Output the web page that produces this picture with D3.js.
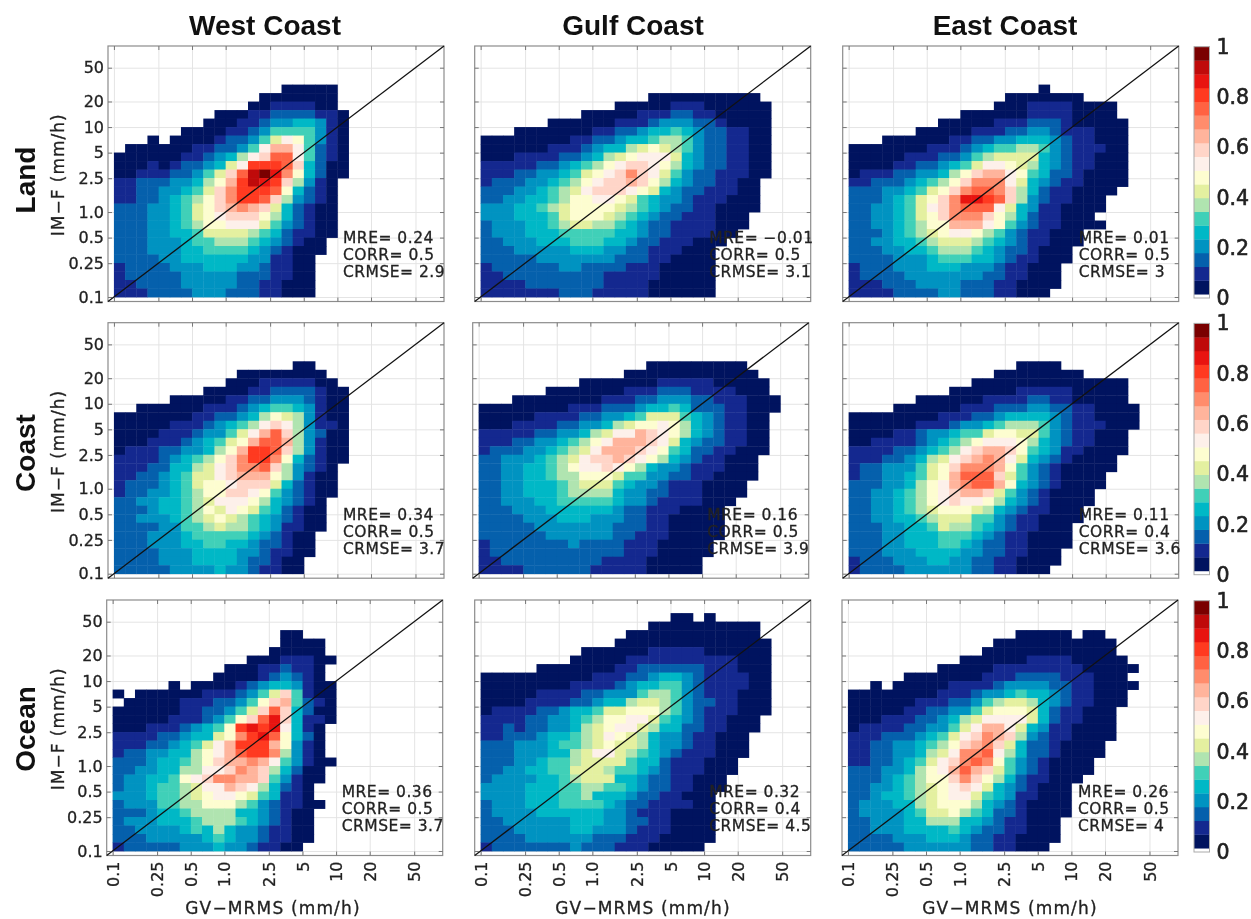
<!DOCTYPE html>
<html>
<head>
<meta charset="utf-8">
<script src="https://cdnjs.cloudflare.com/ajax/libs/d3/7.8.5/d3.min.js"></script>
<style>
    body { margin: 0; background: #fff; }
    svg { display: block; filter: blur(0.45px); }
    text { font-family: "DejaVu Sans", sans-serif; fill: #222; stroke: #222; stroke-width: 0.3px; }
    .head { font-family: "Liberation Sans", sans-serif; font-weight: bold; fill: #111; stroke: none; font-size: 28px; }
</style>
</head>
<body>
<svg id="chart" width="1251" height="919"></svg>
<script>
// Each panel: one string per row, top row first, last string is the 0.1 mm/h bin.
// One character per column: colour level 0-9,a-h as on the colour bar, "." is empty.
const westLand = [
    "...............00000",
    ".............0000000",
    "............00111100",
    ".........000112222110",
    "........0001123344310",
    "......000011235555310",
    "...0.0000122357985310",
    ".0000001122359bb95210",
    "0000001123469add95210",
    "000101223479eeeda4200",
    "0011122357adghfc84200",
    "1122233468begfea6310",
    "112233457aceeed84210",
    "112234568aceeda63210",
    "222334578abcba742100",
    "2223345789aaa8642100",
    "22233456889997532100",
    "22233445777765421100",
    "2223334556665432100",
    "2223334455554321000",
    "222233444444331100",
    "122223334443321100",
    "122222333332221100",
    "112222333332211000",
    "111222233322211000"
];
const gulfLand = [
    "...............0000000000",
    "............00000111000000",
    ".........00000111221100000",
    "......0000001112333221" + "0000",
    "...00000001122344543221100",
    "00000000112234456653221100",
    "00000011123446787653221100",
    "00011112234678999743221100",
    "1111122345689aa98643221100",
    "111223345789aca97532211100",
    "12223345689aaba8643221100",
    "2223345679aaa987432211100",
    "2233445688998754332111000",
    "3334456788887654322110000",
    "333444578887654322111000",
    "233344567766543221111000",
    "23334445555544322111100",
    "2233344455544322111000",
    "222333334443322111000",
    "222223333333222110000",
    "122222233222211100000",
    "112222222221111100000",
    "111122222221111000000",
    "111111122211111000000"
];
const eastLand = [
    ".................0",
    "..............0000000",
    ".............00011110000",
    "..........00000011110000",
    "........00000111222100000",
    "......0000011122332111000",
    "...0000001122334443211000",
    "0000000111234556653211100",
    "0000011122356777743211000",
    "0000112234579987643211000",
    "01112233468abb98542210000",
    "1122234568accc97432110000",
    "222334578acddca642110000",
    "22234578acffeda63211000",
    "22334579acddd9743110000",
    "22334578accca864211000",
    "223345688bbb98532110000",
    "222345678998653211000",
    "223344567776543211000",
    "22233445666543221000",
    "22223334555443211000",
    "1222333444333211000",
    "1222233333332211000",
    "1112223333222110000",
    "111122223322211000"
];
const westCoast = [
    "................00",
    "...........00000000",
    "..........0001111100",
    "........0000112222100",
    ".....0000011223332100",
    "..0000001112345543100",
    "000000011223468763100",
    "00000111234569a963110",
    "0000111233579bda63200",
    "000111234578bddb63100",
    "01112233468beeda63100",
    "1111234568aceec842100",
    "1112244679accda63210",
    "1122345779abbb863100",
    "12223457889aaa742100",
    "1223345688aa98532100",
    "2233445679998643210",
    "2223445687987542100",
    "2233345678765432100",
    "2222335567665431100",
    "222333455555432100",
    "222333445544322100",
    "222233344443321100",
    "22223334444322100",
    "22222333343321100"
];
const gulfCoast = [
    "...............000000000",
    ".............000000000000",
    ".........00000001111100000",
    "......00000001112221111000",
    "...00000000111223332211100" + "0",
    "000000001112223445422211000",
    "00000111122334577754321100",
    "00011112233467889864321100",
    "11111223346799ba9864321100",
    "111223345689bbba9743221100",
    "12223345679bbba98542211000",
    "2233345679aaba98643211000",
    "22334456899a9864332111000",
    "2233445668887553322110000",
    "223344456777543321110000",
    "223344456666433221110000",
    "22333445555543321111000",
    "2223334444443221110000",
    "2222333444333221100000",
    "2222233333332221100000",
    "2222223333332211100000",
    "122222223222211100000",
    "122222222222211100000",
    "11222222222111100000",
    "11112222221111100000"
];
const eastCoast = [
    "...............0000",
    ".............00000000",
    "...........00000000000000",
    ".........0000001111100000",
    "......000000111122110000" + "0",
    "....00000011122233221100" + "00",
    "00000000111223444432110000",
    "00000011123345666532111000",
    "0000112334557887753211000",
    "0011112345689998643211000",
    "11112234569abba8543110000",
    "1112234679abcb9743210000",
    "122333578acccb8532100000",
    "122334578bddda753210000",
    "222334689bcddb843210000",
    "223345689abba753210000",
    "223345689a998643210000",
    "223345678887643211000",
    "223344567775532110000",
    "22233445766543211000",
    "22233444555432110000",
    "22233444554322110000",
    "2223334444332211000",
    "1222333443322110000",
    "122223333332211000"
];
const westOcean = [
    "...............00",
    "...............0000",
    "..............00000",
    "............00011100",
    "..........000112110",
    ".........0000123210",
    ".....0.0000123443100",
    "0.0000001112357a5100",
    ".0000011122358ab5210",
    "0000001122357ada4200",
    "000001112358adfa4110",
    "00011123458efef9410",
    "11112234478cefd8420",
    "1112234579beeeb8310",
    "1223344689bdeec6310",
    "222344568abbcb953100",
    "2233446699acba64200",
    "23344589accbba53100",
    "2334556799ba964210",
    "333455678998754110",
    "2333556688865321100",
    "222344566664432100",
    "233344456665432100",
    "223333454643321100",
    "222333334543321100",
    "12222233343321100"
];
const gulfOcean = [
    ".................00.0",
    "...............0000000000",
    ".............000000000000",
    "............00000000000000",
    ".........00000011111000000",
    "........000001111111111000",
    ".....000000011222222111000",
    "00000000001112234432111100",
    "00000000111123445532111100",
    "00000111122333566532111000",
    "00001111223446776532211000",
    "01111223445778886532111000",
    "1111223345688997543211000",
    "1121223346789976442211000",
    "112223445679876433211000",
    "222333455678776433211000",
    "222333446799765432111000",
    "22233455677775442111000",
    "22334455777655432111000",
    "2333344567774432211000",
    "3333444556655432211000",
    "333344455644432211000",
    "233344455554322111100",
    "233334444443321110000",
    "223333334443322110000",
    "222333334433321110000",
    "222233333322211100000",
    "12222222322211100000"
];
const eastOcean = [
    "...............00000.00",
    ".............00000000000",
    "............000000000000",
    "..........000000111100000",
    "........000001111111100000",
    ".....0000000111222211100" + "0",
    "..0.0000011112333322110000",
    "0000000011123345443211000",
    "0000001112235677643211000",
    "000001122335788874211000",
    "000111223467999974211000",
    "011112233579bb9743110000",
    "11122234579acba632110000",
    "1122334568abca742210000",
    "1122334679ccd9642210000",
    "112234579acdc853210000",
    "222334689bdba753210000",
    "222345688aca864211000",
    "2233456789a974321000",
    "22344567899754311000",
    "23334467888643210000",
    "23333457786542210000",
    "2233344666443211000",
    "2233344445432211000",
    "2222333444322110000",
    "222223333332211000"
];

const panelData = [westLand, gulfLand, eastLand, westCoast, gulfCoast, eastCoast, westOcean, gulfOcean, eastOcean];
const mreText = ["0.24", "\u22120.01", "0.01", "0.34", "0.16", "0.11", "0.36", "0.32", "0.26"];
const corrText = ["0.5", "0.5", "0.5", "0.5", "0.5", "0.4", "0.5", "0.4", "0.5"];
const crmseText = ["2.9", "3.1", "3", "3.7", "3.9", "3.6", "3.7", "4.5", "4"];

const columnNames = ["West Coast", "Gulf Coast", "East Coast"];
const rowNames = ["Land", "Coast", "Ocean"];
const tickValues = [0.1, 0.25, 0.5, 1, 2.5, 5, 10, 20, 50];
const tickLabels = ["0.1", "0.25", "0.5", "1.0", "2.5", "5", "10", "20", "50"];
const barTicks = [0, 0.2, 0.4, 0.6, 0.8, 1];

const levelColors = ["#00135f", "#14288f", "#0560ac", "#0093c1", "#00b8c6", "#40d0b8", "#b0e4b0", "#e4f0a0", "#fdfdd0",
    "#fdf0ea", "#ffd5c8", "#ffb49c", "#ff8c6c", "#ff6242", "#ff3a20", "#e81410", "#bf0a0a", "#7a0000"];

// frame positions
const frameLeft = [108, 474.7, 842.7, 108, 472.7, 842.7, 106.7, 474.7, 842];
const frameTop = [46, 322.7, 600];
const frameW = 336, frameH = 255.5;
const logDomain = [0.0885, 90];
const titleCenter = [265, 633, 1005];
const rowLabelCenter = [180, 453, 729];
const xLabelCenter = [273, 643, 1010];

const svg = d3.select("#chart");

function drawPanel(index) {
    let rowIdx = Math.floor(index / 3);
    let colIdx = index % 3;
    let x = d3.scaleLog().domain(logDomain).range([0, frameW]);
    let y = d3.scaleLog().domain(logDomain).range([frameH, 0]);
    let g = svg.append("g").attr("transform", `translate(${frameLeft[index]},${frameTop[rowIdx]})`);

    // grid goes under the cells
    let gridX = d3.axisBottom(x).tickValues(tickValues).tickSize(-frameH).tickFormat("");
    let gridY = d3.axisLeft(y).tickValues(tickValues).tickSize(-frameW).tickFormat("");
    g.append("g").attr("transform", `translate(0,${frameH})`).call(gridX)
        .call(s => s.select(".domain").remove())
        .selectAll("line").attr("stroke", "#e4e4e4");
    g.append("g").call(gridY)
        .call(s => s.select(".domain").remove())
        .selectAll("line").attr("stroke", "#e4e4e4");

    // bins are 0.1 decade wide, starting at 0.1 mm/h
    let binEdge = i => Math.pow(10, -1 + i / 10);
    let cells = [];
    let rows = panelData[index];
    rows.forEach((row, i) => {
        let r = rows.length - 1 - i;
        for (let c = 0; c < row.length; c++) {
            if (row[c] !== ".") {
                cells.push({ c: c, r: r, level: parseInt(row[c], 36) });
            }
        }
    });
    g.selectAll("rect.cell")
        .data(cells)
        .join("rect")
        .attr("class", "cell")
        .attr("x", d => x(binEdge(d.c)))
        .attr("y", d => y(binEdge(d.r + 1)))
        .attr("width", d => x(binEdge(d.c + 1)) - x(binEdge(d.c)) + 0.4)
        .attr("height", d => y(binEdge(d.r)) - y(binEdge(d.r + 1)) + 0.4)
        .attr("fill", d => levelColors[d.level]);

    // frame and short ticks on all four sides
    g.append("rect").attr("width", frameW).attr("height", frameH)
        .attr("fill", "none").attr("stroke", "#8c8c8c").attr("stroke-width", 1.2);
    let sides = [
        d3.axisBottom(x).tickSize(-4), d3.axisTop(x).tickSize(-4),
        d3.axisLeft(y).tickSize(-4), d3.axisRight(y).tickSize(-4)
    ];
    let shifts = [[0, frameH], [0, 0], [0, 0], [frameW, 0]];
    sides.forEach((ax, i) => {
        g.append("g").attr("transform", `translate(${shifts[i][0]},${shifts[i][1]})`)
            .call(ax.tickValues(tickValues).tickFormat(""))
            .call(s => s.select(".domain").remove())
            .selectAll("line").attr("stroke", "#777");
    });

    // 1:1 line
    g.append("line")
        .attr("x1", x(logDomain[0])).attr("y1", y(logDomain[0]))
        .attr("x2", x(logDomain[1])).attr("y2", y(logDomain[1]))
        .attr("stroke", "#111").attr("stroke-width", 1.3);

    if (colIdx === 0) {
        let leftAxis = d3.axisLeft(y).tickValues(tickValues).tickSize(0).tickPadding(4)
            .tickFormat((d, i) => tickLabels[i]);
        g.append("g").call(leftAxis)
            .call(s => s.select(".domain").remove())
            .selectAll("text")
            .attr("font-size", 16).attr("font-family", null);
        svg.append("text")
            .attr("transform", `translate(63.5,${frameTop[rowIdx] + frameH / 2 + 1}) rotate(-90)`)
            .attr("text-anchor", "middle")
            .attr("font-size", 17).style("letter-spacing", "1px")
            .text("IM\u2212F (mm/h)");
        svg.append("text").attr("class", "head")
            .attr("transform", `translate(35,${rowLabelCenter[rowIdx]}) rotate(-90)`)
            .attr("text-anchor", "middle")
            .text(rowNames[rowIdx]);
    }
    if (rowIdx === 2) {
        let bottomAxis = d3.axisBottom(x).tickValues(tickValues).tickSize(0).tickPadding(6)
            .tickFormat((d, i) => tickLabels[i]);
        g.append("g").attr("transform", `translate(0,${frameH})`).call(bottomAxis)
            .call(s => s.select(".domain").remove())
            .selectAll("text")
            .attr("font-size", 16).attr("font-family", null)
            .attr("text-anchor", "end")
            .attr("dy", "0.35em").attr("y", 0)
            .attr("transform", "translate(0,6) rotate(-90)");
        svg.append("text")
            .attr("x", xLabelCenter[colIdx])
            .attr("y", 914)
            .attr("text-anchor", "middle")
            .attr("font-size", 17).style("letter-spacing", "1.15px")
            .text("GV\u2212MRMS (mm/h)");
    }
    if (rowIdx === 0) {
        svg.append("text").attr("class", "head")
            .attr("x", titleCenter[colIdx])
            .attr("y", 35)
            .attr("text-anchor", "middle")
            .text(columnNames[colIdx]);
    }

    // statistics text
    let statX = [235, 234.5, 236][colIdx];
    let stats = ["MRE= " + mreText[index], "CORR= " + corrText[index], "CRMSE= " + crmseText[index]];
    g.selectAll("text.stat")
        .data(stats)
        .join("text")
        .attr("class", "stat")
        .attr("x", statX)
        .attr("y", (d, i) => 197 + i * 17.2)
        .attr("font-size", 15.5)
        .style("letter-spacing", "0.5px")
        .text(d => d);
}

function drawColorBar(rowIdx) {
    let top = frameTop[rowIdx] + 0.7;
    let height = 251.3;
    let left = 1194, width = 15.5;
    let v = d3.scaleLinear().domain([0, 1]).range([top + height, top]);
    let g = svg.append("g");
    let levelStart = 0.015;
    let step = (1 - levelStart) / levelColors.length;
    g.selectAll("rect")
        .data(levelColors)
        .join("rect")
        .attr("x", left)
        .attr("y", (d, i) => v(levelStart + (i + 1) * step))
        .attr("width", width)
        .attr("height", v(0) - v(step) + 0.3)
        .attr("fill", d => d);
    g.append("rect")
        .attr("x", left).attr("y", top).attr("width", width).attr("height", height)
        .attr("fill", "none").attr("stroke", "#aaa").attr("stroke-width", 1);
    let labelAxis = d3.axisRight(v).tickValues(barTicks).tickSize(0).tickPadding(7)
        .tickFormat(d => d === 0 || d === 1 ? String(d) : d.toFixed(1));
    g.append("g").attr("transform", `translate(${left + width},0)`).call(labelAxis)
        .call(s => s.select(".domain").remove())
        .selectAll("text")
        .attr("font-size", 20.5).attr("font-family", null)
        .style("stroke-width", "0.6px");
}

for (let i = 0; i < panelData.length; i++) {
    drawPanel(i);
}
[0, 1, 2].forEach(drawColorBar);
</script>
</body>
</html>
